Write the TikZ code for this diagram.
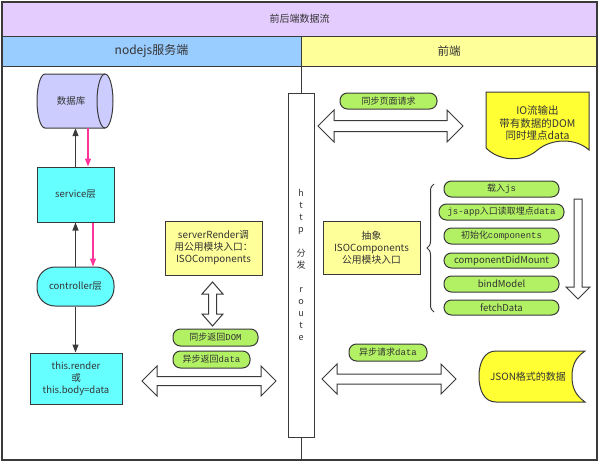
\documentclass[tikz,border=0pt]{standalone}
\usepackage{fontspec}
\setmainfont{Noto Sans CJK SC}
\newfontfamily\monof{Liberation Mono}
\usetikzlibrary{arrows.meta,decorations.pathreplacing,calc}
\definecolor{lineC}{HTML}{3A3A3A}
\definecolor{txtC}{HTML}{333333}
\definecolor{purpleC}{HTML}{E5CCFF}
\definecolor{blueC}{HTML}{99CCFF}
\definecolor{paleY}{HTML}{FFFF99}
\definecolor{brightY}{HTML}{FFFF33}
\definecolor{cyanC}{HTML}{66FFFF}
\definecolor{lavC}{HTML}{CCCCFF}
\definecolor{pillG}{HTML}{B2F064}
\definecolor{pinkC}{HTML}{FF3399}
\newcommand\hdarrow[6]{%
 \draw[hollow] (#1,#3) -- ({#1+#6},{#3-#5}) -- ({#1+#6},{#3-#4}) -- ({#2-#6},{#3-#4}) -- ({#2-#6},{#3-#5}) -- (#2,#3) -- ({#2-#6},{#3+#5}) -- ({#2-#6},{#3+#4}) -- ({#1+#6},{#3+#4}) -- ({#1+#6},{#3+#5}) -- cycle;}
\begin{document}
\begin{tikzpicture}[x=1pt,y=-1pt,
  txt/.style={text=txtC, inner sep=0pt, align=center, font=\fontsize{9.5}{12}\selectfont},
  box/.style={txt, draw=lineC, line width=1pt},
  pill/.style={box, fill=pillG, rounded corners=7.5pt},
  hollow/.style={draw=lineC, line width=1pt, fill=white},
  blk/.style={draw=lineC, line width=1.2pt, -{Triangle[length=8pt,width=6pt]}},
  pnk/.style={draw=pinkC, line width=1.2pt, -{Triangle[length=8pt,width=6pt]}},
  shp/.style={draw=lineC, line width=1pt}
]
\useasboundingbox (0,0) rectangle (600,463);
% frame and headers
\node[box, fill=purpleC, minimum width=595, minimum height=34, font=\fontsize{10}{12}\selectfont] (title) at (299.5,19) {前后端数据流};
\node[box, fill=blueC, minimum width=299, minimum height=30, font=\fontsize{12}{14}\selectfont] (nodehdr) at (151.5,51) {nodejs服务端};
\node[box, fill=paleY, minimum width=296, minimum height=30, font=\fontsize{11.5}{14}\selectfont] (fehdr) at (449,51) {前端};
\node[draw=lineC, line width=1pt, minimum width=595, minimum height=394, inner sep=0pt] (body) at (299.5,263) {};
\draw[draw=lineC, line width=1.4pt] (2,2) rectangle (597,460);
% http route
\node[box, fill=white, minimum width=26, minimum height=344, font=\fontsize{9}{12}\selectfont] (http) at (301,265)
  {h\\t\\t\\p\\[12pt]分\\发\\[12pt]r\\o\\u\\t\\e};
\draw[draw=lineC, line width=1pt] (http.north) -- (http.north |- fehdr.south);
\draw[draw=lineC, line width=1pt] (http.south) -- (http.south |- body.south);
% database cylinder
\draw[shp, fill=lavC] (45,74) -- (105,74) .. controls (109.4,74) and (113,86.1) .. (113,101) .. controls (113,115.9) and (109.4,128) .. (105,128) -- (45,128) .. controls (40.6,128) and (37,115.9) .. (37,101) .. controls (37,86.1) and (40.6,74) .. (45,74) -- cycle;
\draw[shp] (105,74) .. controls (100.6,74) and (97,86.1) .. (97,101) .. controls (97,115.9) and (100.6,128) .. (105,128);
\node[txt, minimum width=76, minimum height=54] (db) at (75,101) {\hspace*{-8pt}数据库};
% left column
\node[box, fill=cyanC, minimum width=77, minimum height=55] (service) at (75.5,194.5) {service层};
\node[box, fill=cyanC, minimum width=77, minimum height=39, rounded corners=18pt] (controller) at (75.5,286.5) {controller层};
\node[box, fill=cyanC, minimum width=92, minimum height=51] (render) at (76,378.5) {this.render\\或\\this.body=data};
\draw[blk] (service.north) -- (service.north |- db.south);
\draw[pnk] ([xshift=12.5pt]service.north |- db.south) -- ([xshift=12.5pt]service.north);
\draw[blk] (controller.north) -- (service.south);
\draw[pnk] ([xshift=17.5pt]service.south) -- ([xshift=17.5pt]service.south |- controller.north);
\draw[blk] (controller.south) -- (controller.south |- render.north);
% server render
\node[box, fill=paleY, minimum width=97, minimum height=54, font=\fontsize{9.8}{12}\selectfont] (srv) at (213.5,248) {serverRender调\\用公用模块入口：\\ISOComponents};
% vertical double arrow
\draw[hollow] (212.5,282) -- (223,294) -- (216.5,294) -- (216.5,314) -- (223,314) -- (212.5,326) -- (202,314) -- (208.5,314) -- (208.5,294) -- (202,294) -- cycle;
\node[pill, minimum width=85, minimum height=17, font=\fontsize{9}{12}\selectfont] (dom1) at (215.5,337.5) {同步返回{\monof DOM}};
\node[pill, minimum width=77, minimum height=17, font=\fontsize{9}{12}\selectfont] (data1) at (211.5,359.5) {异步返回{\monof data}};
\hdarrow{142}{276}{381}{4.5}{15}{15}
% right column
\node[pill, minimum width=97, minimum height=16, font=\fontsize{9}{12}\selectfont] (req) at (388.5,101) {同步页面请求};
\hdarrow{318}{463}{126}{5.5}{16}{16}
\draw[shp, fill=brightY] (486,92) -- (589,92) -- (589,150) .. controls (576,138) and (552,138) .. (537.5,150) .. controls (524,162) and (500,162) .. (486,148) -- cycle;
\node[txt, font=\fontsize{10.5}{12.5}\selectfont] (doc) at (537.5,123.5) {IO流输出\\带有数据的DOM\\同时埋点data};
\node[box, fill=paleY, minimum width=97, minimum height=53, font=\fontsize{9.8}{12}\selectfont] (abs) at (371.5,247.5) {抽象\\ISOComponents\\公用模块入口};
\draw[draw=lineC, line width=1pt, decorate, decoration={brace, amplitude=7pt}] (434,312) -- (434,184);
\node[pill, minimum width=115, minimum height=16, font=\fontsize{9}{12}\selectfont] (p1) at (501.5,189) {载入{\monof js}};
\node[pill, minimum width=125, minimum height=16, font=\fontsize{9}{12}\selectfont] (p2) at (501.5,212) {{\monof js-app}入口读取埋点{\monof data}};
\node[pill, minimum width=115, minimum height=16, font=\fontsize{9}{12}\selectfont] (p3) at (501.5,236) {初始化{\monof components}};
\node[pill, minimum width=115, minimum height=15] (p4) at (501.5,260.5) {componentDidMount};
\node[pill, minimum width=115, minimum height=16] (p5) at (501.5,284) {bindModel};
\node[pill, minimum width=115, minimum height=15] (p6) at (501.5,307.5) {fetchData};
\draw[hollow] (574,199) -- (582,199) -- (582,287) -- (590,287) -- (578,299) -- (566,287) -- (574,287) -- cycle;
\node[pill, minimum width=78, minimum height=17, font=\fontsize{9}{12}\selectfont] (req2) at (388,352.5) {异步请求{\monof data}};
\hdarrow{322}{456}{379}{5}{15}{15}
\draw[shp, fill=brightY] (496,351) -- (585,351) .. controls (575,358) and (572,366) .. (572,376.5) .. controls (572,387) and (575,395) .. (585,402) -- (496,402) .. controls (484,402) and (479,390) .. (479,376.5) .. controls (479,363) and (484,351) .. (496,351) -- cycle;
\node[txt, font=\fontsize{10}{12}\selectfont] (json) at (528,377) {JSON格式的数据};
\end{tikzpicture}
\end{document}
